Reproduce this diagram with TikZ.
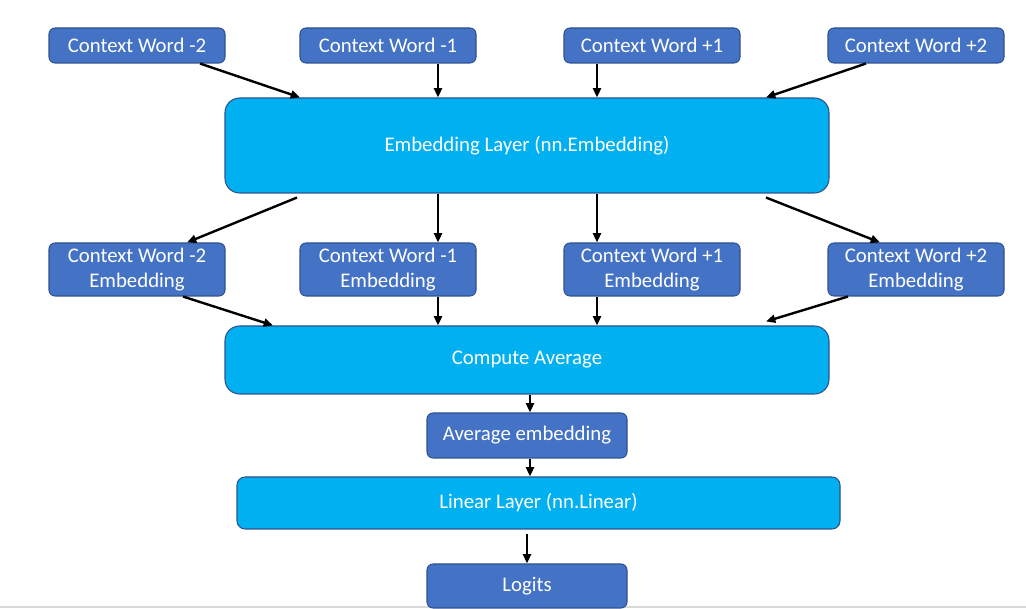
\documentclass[tikz,border=0pt]{standalone}
\usepackage{fontspec}
\setmainfont{Carlito}
\usetikzlibrary{arrows.meta,calc}
\definecolor{boxblue}{HTML}{4472C4}
\definecolor{boxcyan}{HTML}{00B0F0}
\definecolor{edgeblue}{HTML}{2F528F}
\tikzset{
  base/.style={draw=edgeblue, line width=0.8pt, text=white, align=center, inner sep=0pt,
    font=\fontsize{15.6}{18.8}\selectfont},
  small/.style={base, fill=boxblue, rounded corners=4.5pt, minimum width=176*0.75pt},
  wide/.style={base, fill=boxcyan, rounded corners=11pt},
  arr/.style={-{Triangle[length=7pt,width=6pt]}, line width=1.8pt, black}
}
\begin{document}
\begin{tikzpicture}[x=0.75pt,y=-0.75pt]
\useasboundingbox (0,0) rectangle (1026,609);
\draw[gray!30, line width=1.5pt] (0,607) -- (1026,607);
% top row
\node[small, minimum height=35*0.75pt] (cwA) at (137,45.5) {Context Word -2};
\node[small, minimum height=35*0.75pt] (cwB) at (388,45.5) {Context Word -1};
\node[small, minimum height=35*0.75pt] (cwC) at (652,45.5) {Context Word +1};
\node[small, minimum height=35*0.75pt] (cwD) at (916,45.5) {Context Word +2};
% embedding layer
\node[wide, minimum width=604*0.75pt, minimum height=95*0.75pt] (emb) at (527,145.5) {Embedding Layer (nn.Embedding)};
% second row
\node[small, minimum height=53*0.75pt] (eA) at (137,269.5) {Context Word -2\\Embedding};
\node[small, minimum height=53*0.75pt] (eB) at (388,269.5) {Context Word -1\\Embedding};
\node[small, minimum height=53*0.75pt] (eC) at (652,269.5) {Context Word +1\\Embedding};
\node[small, minimum height=53*0.75pt] (eD) at (916,269.5) {Context Word +2\\Embedding};
% average
\node[wide, minimum width=604*0.75pt, minimum height=68*0.75pt] (avg) at (527,360) {Compute Average};
\node[small, minimum width=200*0.75pt, minimum height=45*0.75pt] (avgE) at (527,435.5) {Average embedding};
\node[base, fill=boxcyan, rounded corners=6pt, minimum width=603*0.75pt, minimum height=52*0.75pt] (lin) at (538.5,503) {Linear Layer (nn.Linear)};
\node[small, minimum width=200*0.75pt, minimum height=44*0.75pt] (log) at (527,586) {Logits};
% arrows top -> embedding
\draw[arr] ($(cwA.south)+(63,0)$) -- ($(emb.north)+(-227,0)$);
\draw[arr] ($(cwB.south)+(50,0)$) -- ($(emb.north)+(-89,0)$);
\draw[arr] ($(cwC.south)+(-55,0)$) -- ($(emb.north)+(70,0)$);
\draw[arr] ($(cwD.south)+(-50,0)$) -- ($(emb.north)+(239,0)$);
% embedding -> second row
\draw[arr] ($(emb.south)+(-230,4)$) -- ($(eA.north)+(50,0)$);
\draw[arr] ($(emb.south)+(-89,0)$) -- ($(eB.north)+(50,0)$);
\draw[arr] ($(emb.south)+(70,0)$) -- ($(eC.north)+(-55,0)$);
\draw[arr] ($(emb.south)+(239,4)$) -- ($(eD.north)+(-36,0)$);
% second row -> average
\draw[arr] ($(eA.south)+(46,0)$) -- ($(avg.north)+(-254,0)$);
\draw[arr] ($(eB.south)+(50,0)$) -- ($(avg.north)+(-89,0)$);
\draw[arr] ($(eC.south)+(-55,0)$) -- ($(avg.north)+(70,0)$);
\draw[arr] ($(eD.south)+(-68,0)$) -- ($(avg.north)+(239,-4)$);
% lower chain
\draw[arr] ($(avg.south)+(3,0)$) -- ($(avgE.north)+(3,0)$);
\draw[arr] ($(avgE.south)+(3,0)$) -- ($(lin.north)+(-8.5,0)$);
\draw[arr] ($(lin.south)+(-11.5,4)$) -- (log.north);
\end{tikzpicture}
\end{document}
